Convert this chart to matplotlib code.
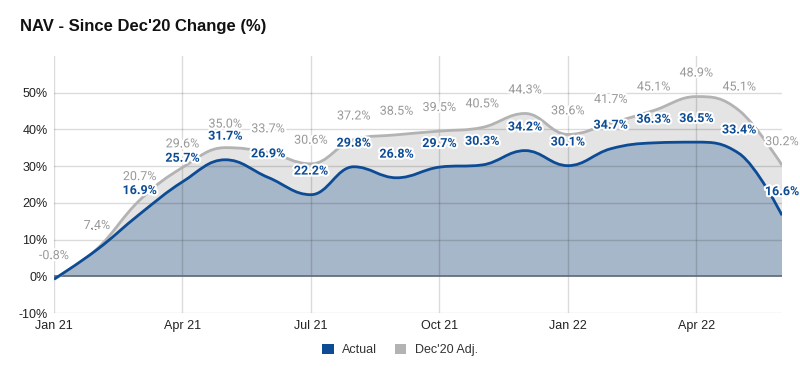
import matplotlib
matplotlib.use("Agg")
import matplotlib.pyplot as plt
from matplotlib.path import Path
from matplotlib.patches import PathPatch, Patch
import matplotlib.patheffects as pe
import numpy as np

months = ["Jan 21", "Feb 21", "Mar 21", "Apr 21", "May 21", "Jun 21", "Jul 21", "Aug 21",
          "Sep 21", "Oct 21", "Nov 21", "Dec 21", "Jan 22", "Feb 22", "Mar 22", "Apr 22",
          "May 22", "Jun 22"]
actual = [-0.8, 7.2, 16.9, 25.7, 31.7, 26.9, 22.2, 29.8, 26.8, 29.7, 30.3, 34.2, 30.1,
          34.7, 36.3, 36.5, 33.4, 16.6]
adjusted = [-0.8, 7.4, 20.7, 29.6, 35.0, 33.7, 30.6, 37.2, 38.5, 39.5, 40.5, 44.3, 38.6,
            41.7, 45.1, 48.9, 45.1, 30.2]
tick_idx = [0, 3, 6, 9, 12, 15]
y_ticks = [-10, 0, 10, 20, 30, 40, 50]

BLUE = "#0d4c94"
BLUE_FILL = "#a6b7c9"
GREY = "#b3b3b3"
GREY_FILL = "#e4e4e4"
GREY_TXT = "#999999"


def spline_path(xs, ys, closed_base=None):
    """Highcharts-style smoothed spline as bezier path."""
    n = len(xs)
    sm = 1.5
    den = sm + 1
    lc = [None] * n
    rc = [None] * n
    for i in range(n):
        x, y = xs[i], ys[i]
        if 0 < i < n - 1:
            lx, ly = xs[i - 1], ys[i - 1]
            nx, ny = xs[i + 1], ys[i + 1]
            lcx = (sm * x + lx) / den
            lcy = (sm * y + ly) / den
            rcx = (sm * x + nx) / den
            rcy = (sm * y + ny) / den
            corr = 0
            if rcx != lcx:
                corr = ((rcy - lcy) * (rcx - x)) / (rcx - lcx) + y - rcy
            lcy += corr
            rcy += corr
            if lcy > ly and lcy > y:
                lcy = max(ly, y)
                rcy = 2 * y - lcy
            elif lcy < ly and lcy < y:
                lcy = min(ly, y)
                rcy = 2 * y - lcy
            if rcy > ny and rcy > y:
                rcy = max(ny, y)
                lcy = 2 * y - rcy
            elif rcy < ny and rcy < y:
                rcy = min(ny, y)
                lcy = 2 * y - rcy
            lc[i] = (lcx, lcy)
            rc[i] = (rcx, rcy)
        else:
            lc[i] = (x, y)
            rc[i] = (x, y)
    verts = []
    codes = []
    if closed_base is not None:
        verts.append((xs[0], closed_base))
        codes.append(Path.MOVETO)
        verts.append((xs[0], ys[0]))
        codes.append(Path.LINETO)
    else:
        verts.append((xs[0], ys[0]))
        codes.append(Path.MOVETO)
    for i in range(1, n):
        verts += [rc[i - 1], lc[i], (xs[i], ys[i])]
        codes += [Path.CURVE4] * 3
    if closed_base is not None:
        verts.append((xs[-1], closed_base))
        codes.append(Path.LINETO)
        verts.append((xs[0], closed_base))
        codes.append(Path.CLOSEPOLY)
    return Path(verts, codes)


fig = plt.figure(figsize=(8, 3.76), dpi=100)
ax = fig.add_axes([54 / 800, 1 - 313 / 376, (782 - 54) / 800, (313 - 55.8) / 376])

x = np.arange(len(months))

ax.add_patch(PathPatch(spline_path(x, adjusted, 0), facecolor=GREY_FILL, edgecolor="none", zorder=1))
ax.add_patch(PathPatch(spline_path(x, actual, 0), facecolor=BLUE_FILL, edgecolor="none", zorder=2))
ax.add_patch(PathPatch(spline_path(x, adjusted), facecolor="none", edgecolor=GREY, lw=2, zorder=4))
ax.add_patch(PathPatch(spline_path(x, actual), facecolor="none", edgecolor=BLUE, lw=2, zorder=5))

ax.set_xlim(0, len(months) - 1)
ax.set_ylim(-10, 60)
ax.set_xticks(tick_idx)
ax.set_xticklabels([months[i] for i in tick_idx])
ax.set_yticks(y_ticks)
ax.set_yticklabels([f"{v}%" for v in y_ticks])
ax.tick_params(length=0, labelsize=9, labelcolor="#222222")
ax.tick_params(axis="y", pad=4.5)
ax.tick_params(axis="x", pad=5)
for lab in ax.get_xticklabels() + ax.get_yticklabels():
    lab.set_family("Liberation Sans")

for s in ax.spines.values():
    s.set_visible(False)

grid_c = (0, 0, 0, 0.14)
for v in y_ticks:
    if v == 0:
        continue
    ax.axhline(v, color=grid_c, lw=1, zorder=3)
for i in tick_idx:
    ax.axvline(i, color=grid_c, lw=1, zorder=3)
ax.axhline(0, color="#5f6a75", lw=1.2, zorder=3)

halo = [pe.withStroke(linewidth=3, foreground="white")]
for xi, v in zip(x, actual):
    ax.annotate(f"{v:.1f}%", (xi, v), xytext=(0, 17), textcoords="offset points",
                ha="center", va="center", fontsize=9, fontweight="bold",
                family="Roboto", color=BLUE, path_effects=halo, zorder=6,
                annotation_clip=False)
for xi, v in zip(x, adjusted):
    ax.annotate(f"{v:.1f}%", (xi, v), xytext=(0, 17), textcoords="offset points",
                ha="center", va="center", fontsize=9, family="Roboto",
                color=GREY_TXT, path_effects=halo, zorder=7, annotation_clip=False)

fig.text(20 / 800, 1 - 26 / 376, "NAV - Since Dec'20 Change (%)", fontsize=12,
         fontweight="bold", family="Liberation Sans", color="#111111", va="center")

handles = [Patch(facecolor=BLUE, edgecolor="none", label="Actual"),
           Patch(facecolor=GREY, edgecolor="none", label="Dec'20 Adj.")]
fig.legend(handles=handles, loc="center", bbox_to_anchor=(0.5, 1 - 350 / 376), ncol=2,
           frameon=False, prop={"family": "Liberation Sans", "size": 9},
           handlelength=0.9, handleheight=0.9, handletextpad=0.7, columnspacing=1.4,
           labelcolor="#333333")

fig.savefig("out.png", dpi=100, facecolor="white")
